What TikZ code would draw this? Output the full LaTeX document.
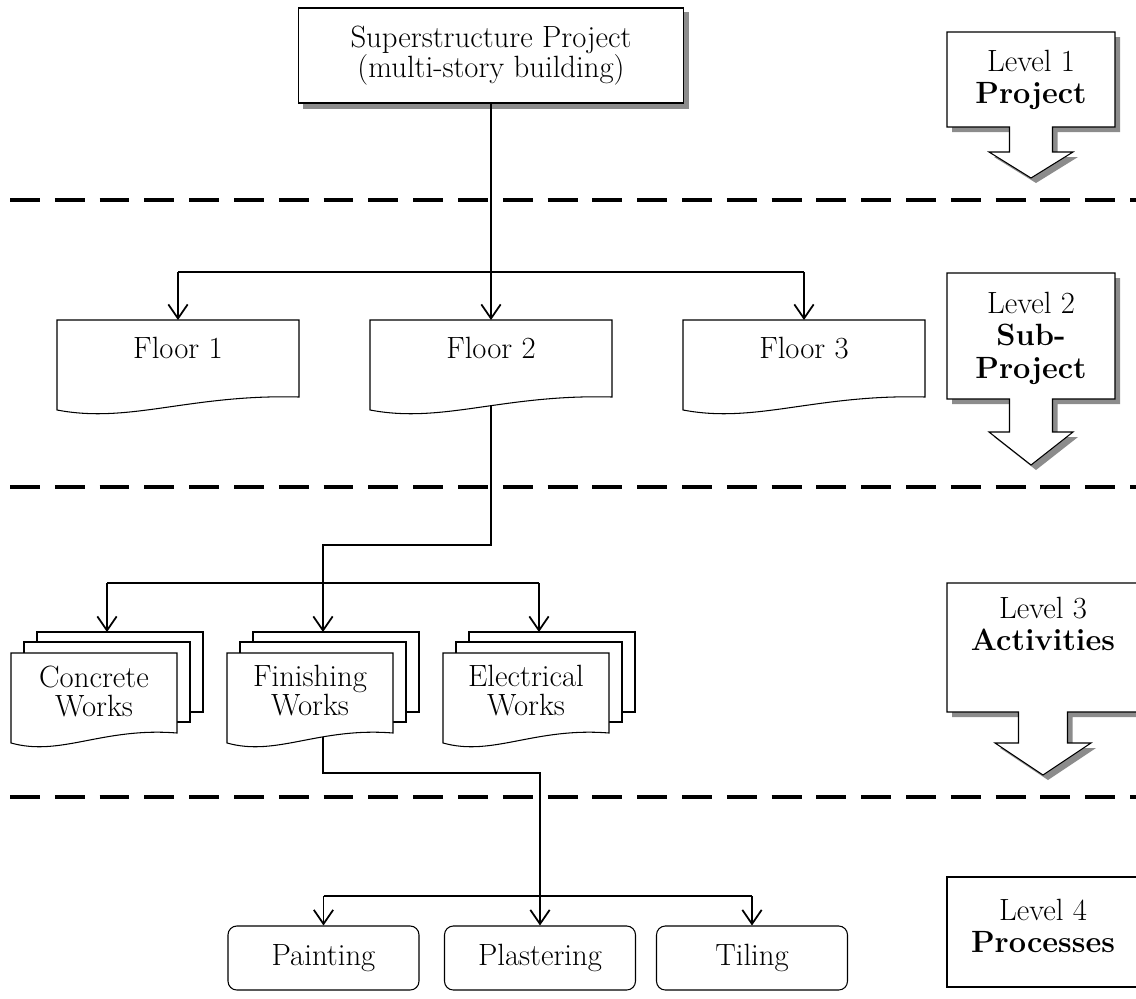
\documentclass[tikz,border=0pt]{standalone}
\usetikzlibrary{arrows.meta,calc}
\pgfdeclarelayer{back}
\pgfsetlayers{back,main}

\tikzset{
  wire/.style={line width=0.6pt},
  feed/.style={wire,-{Straight Barb[length=8pt,width=11pt,line width=1pt]}},
  outline/.style={line width=0.6pt,draw=black,fill=white},
  shade/.style={fill=black!45,draw=none},
  levelsep/.style={line width=2.8pt,dash pattern=on 17pt off 8.5pt},
  bodytext/.style={font=\fontsize{17.5}{18.5}\selectfont,align=center,inner sep=0pt},
  sheettext/.style={font=\fontsize{17.5}{16.5}\selectfont,align=center,inner sep=0pt},
  proc/.style={outline,rounded corners=5pt,minimum width=3.82cm,minimum height=1.28cm,
    font=\fontsize{17.5}{18}\selectfont,inner sep=0pt},
}

% single document sheet with a wavy lower edge: name, left, top, width, right-side height, text, text offset
\newcommand{\sheet}[7]{%
  \node[inner sep=0pt,outer sep=0pt,minimum width=#4*0.02cm,minimum height=1.8cm,anchor=north west] (#1) at (#2,#3) {};
  \draw[outline] (#1.north west) -- (#1.north east) -- ++(0,#5)
    .. controls ($(#1.south west)!0.55!(#1.south east)+(0,-16)$)
    and ($(#1.south west)!0.3!(#1.south east)+(0,14)$) .. (#1.south west) -- cycle;
  \node[sheettext] (#1-text) at ($(#1.north)+(0,#7)$) {#6};
}

% stack of three sheets: name, left, top of the front sheet, text
\newcommand{\sheaf}[4]{%
  \draw[outline] (#2+26,#3-21) rectangle ++(166,80);
  \draw[outline] (#2+13,#3-11) rectangle ++(166,80);
  \sheet{#1}{#2}{#3}{166}{80}{#4}{38}
}

% box with a downward block arrow: style, left, right, top, bottom, stem half, head half, head top, tip
\newcommand{\levelshape}[9]{%
  \pgfmathsetmacro{\signmid}{(#2+#3)/2}
  \path[#1] (#2,#4) -- (#3,#4) -- (#3,#5) -- (\signmid+#6,#5) -- (\signmid+#6,#8)
    -- (\signmid+#7,#8) -- (\signmid,#9) -- (\signmid-#7,#8) -- (\signmid-#6,#8)
    -- (\signmid-#6,#5) -- (#2,#5) -- cycle;
}
\newcommand{\levelsign}[8]{%
  \levelshape{shade,shift={(5,5)}}{#1}{#2}{#3}{#4}{#5}{#6}{#7}{#8}
  \levelshape{outline}{#1}{#2}{#3}{#4}{#5}{#6}{#7}{#8}
}

\begin{document}
\begin{tikzpicture}[x=0.02cm,y=-0.02cm]
\useasboundingbox (0,0) rectangle (1136,998);

% level separators
\foreach \yy in {200,487,797} \draw[levelsep] (10,\yy) -- (1136,\yy);

% level signs on the right
\levelsign{947}{1115}{32}{127}{21.5}{42}{152}{178}
\node[bodytext] (lv1) at (1031,80) {Level 1\\\textbf{Project}};
\levelsign{947}{1115}{273}{399}{21.5}{42}{432}{465}
\node[bodytext] (lv2) at (1031,338) {Level 2\\\textbf{Sub-}\\\textbf{Project}};
\levelsign{947}{1139}{583}{712}{24.5}{48}{743}{775}
\node[bodytext] (lv3) at (1043,624) {Level 3\\\textbf{Activities}};
\draw[outline] (947,877) rectangle (1140,987);
\node[bodytext] (lv4) at (1043,926) {Level 4\\\textbf{Processes}};

% project
\node[outline,minimum width=7.72cm,minimum height=1.9cm,inner sep=0pt,
  font=\fontsize{17.5}{17.5}\selectfont,align=center] (super) at (491,55.5)
  {Superstructure Project\\(multi-story building)};
\begin{pgfonlayer}{back}
  \fill[shade] ($(super.south west)+(5,5)$) rectangle ($(super.north east)+(5,5)$);
\end{pgfonlayer}

% sub-projects
\sheet{f1}{57}{320}{242}{77}{Floor 1}{28}
\sheet{f2}{370}{320}{242}{77}{Floor 2}{28}
\sheet{f3}{683}{320}{242}{77}{Floor 3}{28}

% activities
\sheaf{s1}{11}{653}{Concrete\\Works}
\sheaf{s2}{227}{653}{Finishing\\Works}
\sheaf{s3}{443}{653}{Electrical\\Works}

% processes
\node[proc] (paint) at (323.5,958) {Painting};
\node[proc] (plast) at (540,958) {Plastering};
\node[proc] (tile) at (752,958) {Tiling};

% connectors
\begin{pgfonlayer}{back}
  \coordinate (j1) at (491,272);
  \draw[wire] (super.south) -- (j1);
  \draw[wire] (f1.north |- j1) -- (f3.north |- j1);
  \draw[feed] (f1.north |- j1) -- (f1.north);
  \draw[feed] (j1) -- (f2.north);
  \draw[feed] (f3.north |- j1) -- (f3.north);

  \coordinate (j2) at (491,545);
  \coordinate (j3) at (0,583);
  \coordinate (s1in) at (107,632);
  \coordinate (s2in) at (323,632);
  \coordinate (s3in) at (539,632);
  \draw[feed] (f2.center) -- (j2) -| (s2in);
  \draw[wire] (s1in |- j3) -- (s3in |- j3);
  \draw[feed] (s1in |- j3) -- (s1in);
  \draw[feed] (s3in |- j3) -- (s3in);

  \coordinate (j4) at (323,773);
  \coordinate (j5) at (0,896);
  \draw[feed] (j4 |- s2.center) -- (j4) -| (plast.north);
  \draw[wire] (paint.north |- j5) -- (tile.north |- j5);
  \draw[feed] (paint.north |- j5) -- (paint.north);
  \draw[feed] (tile.north |- j5) -- (tile.north);
\end{pgfonlayer}
\end{tikzpicture}
\end{document}
